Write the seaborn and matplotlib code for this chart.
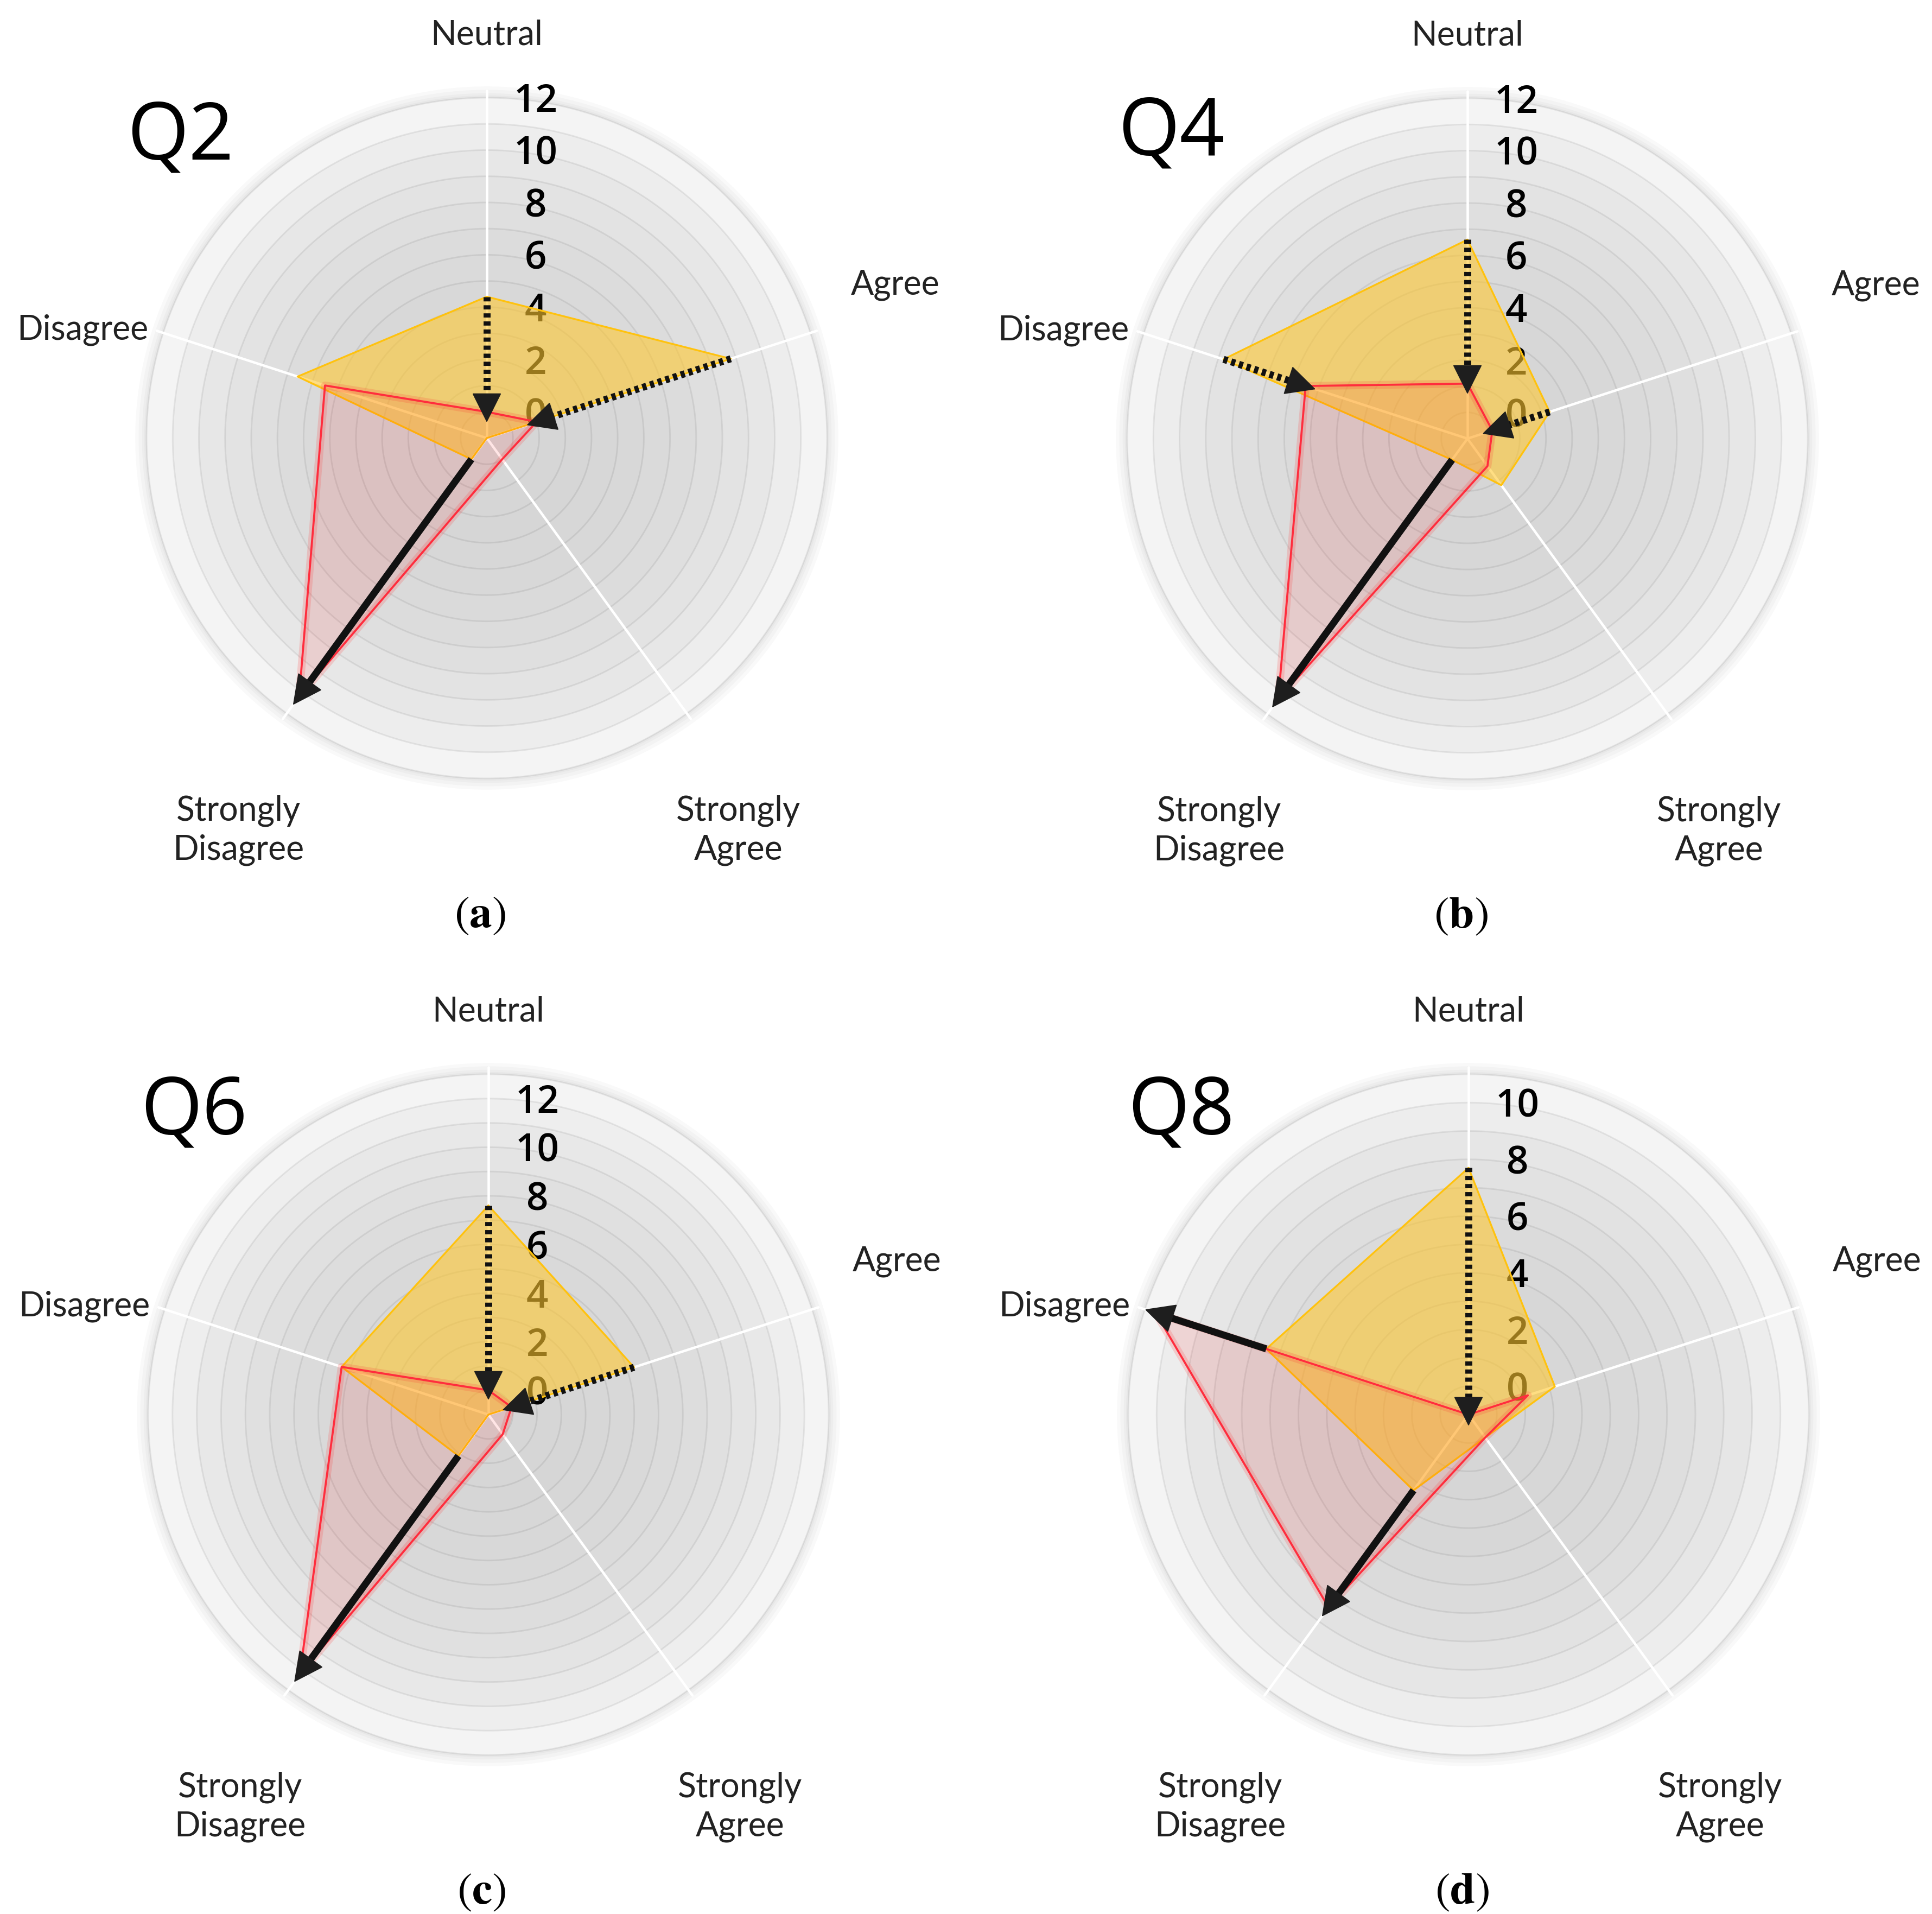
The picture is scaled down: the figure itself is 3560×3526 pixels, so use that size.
import numpy as np
import matplotlib
matplotlib.use("Agg")
import matplotlib.pyplot as plt
import matplotlib.patheffects as pe
from matplotlib.transforms import offset_copy
import seaborn as sns

# ---------------- data ----------------
categories = ["Neutral", "Agree", "Strongly\nAgree", "Strongly\nDisagree", "Disagree"]
questions = ["Q2", "Q4", "Q6", "Q8"]
panel_letters = ["a", "b", "c", "d"]

# values (the centre of each chart sits at -1)
q2_before = [4.4, 8.8, -1.0, 0.0, 6.6]
q2_after = [0.0, 1.0, 0.0, 11.2, 5.5]
q4_before = [6.6, 2.3, 1.2, 0.0, 8.8]
q4_after = [1.1, 0.0, 0.3, 11.3, 5.5]
q6_before = [7.6, 5.3, -1.0, 1.1, 5.35]
q6_after = [0.0, 0.0, 0.0, 12.2, 5.35]
q8_before = [7.7, 2.2, 0.0, 2.3, 6.5]
q8_after = [-1.0, 1.2, 0.0, 7.4, 10.6]

scale_max = [12, 12, 13, 11]
tick_top = [12, 12, 12, 10]

# ---------------- layout ----------------
W, H, DPI = 3561, 3526, 300
R_PX = 627
centers_px = [(897, 807), (2704, 808), (900, 2606), (2706, 2606)]
q_label_pos = [(-0.90, 0.88), (-0.87, 0.895), (-0.865, 0.884), (-0.845, 0.884)]
cat_label_pos = [(0.0, 1.185, "center"), (1.07, 0.45, "left"), (0.74, -1.153, "center"),
                 (-0.73, -1.153, "center"), (-0.995, 0.318, "right")]

YELLOW_FILL = "#ffc831"
YELLOW_EDGE = "#ffc20e"
RED = "#ff2d3d"

sns.set_theme(style="white")
plt.rcParams["font.family"] = ["Lato", "DejaVu Sans"]
plt.rcParams["mathtext.fontset"] = "stix"


def apos(fx, fy):
    return 0.5 + 0.5 * fx, 0.5 + 0.5 * fy


def polar_pt(theta, r):
    # points past the centre continue on the opposite side
    if r < -1:
        return theta + np.pi, -2 - r
    return theta, r


def draw_radar(ax, before, after, rmax, top, qname, letter, qpos):
    n = len(categories)
    angles = np.linspace(0, 2 * np.pi, n, endpoint=False)
    ax.set_theta_zero_location("N")
    ax.set_theta_direction(-1)
    ax.set_xlim(0, 2 * np.pi)
    ax.set_ylim(-1, rmax)
    ax.set_xticks([])
    ax.set_yticks([])
    ax.grid(False)
    ax.spines["polar"].set_visible(False)
    ax.set_facecolor("none")

    circ = np.linspace(0, 2 * np.pi, 721)

    # soft shadow round the outer edge
    for w in [2, 4, 7, 10]:
        ax.plot(circ, np.full_like(circ, rmax), color="black", alpha=0.025, lw=w,
                zorder=0.05, clip_on=False)

    # background bands, light outside -> darker towards the centre
    nb = rmax + 1
    for k in range(nb - 1, -1, -1):
        t = k / (nb - 1)
        g = (214 + 30 * t ** 3) / 255
        ax.bar(0, k + 1, width=2 * np.pi, bottom=-1, color=(g, g, g), linewidth=0, zorder=0.1)

    # ring lines
    for v in range(0, rmax + 1):
        ax.plot(circ, np.full_like(circ, v), color="black", alpha=0.07, lw=0.7,
                zorder=0.2, clip_on=(v < rmax))

    # spokes
    ext = rmax + 0.02 * (rmax + 1)
    for a in angles:
        ax.plot([a, a], [-1, ext], color="white", lw=1.1, zorder=0.3, clip_on=False)

    # tick labels, drawn under the datasets
    tick_tr = offset_copy(ax.transData, fig=ax.figure, x=90, y=0, units="dots")
    for v in range(0, top + 1, 2):
        ax.text(0, v, str(v), transform=tick_tr, ha="center", va="center_baseline",
                fontsize=17, fontweight="semibold", family=["Open Sans", "DejaVu Sans"],
                color="black", zorder=0.5)

    th = np.append(angles, angles[0])
    b = np.append(before, before[0])
    a = np.append(after, after[0])

    ax.fill(th, b, color=YELLOW_FILL, alpha=0.6, lw=0, zorder=1)
    sns.lineplot(x=th, y=b, sort=False, estimator=None, color=YELLOW_EDGE, lw=0.8, ax=ax, zorder=1.1)
    ax.fill(th, a, color="red", alpha=0.1, lw=0, zorder=1.2)
    sns.lineplot(x=th, y=a, sort=False, estimator=None, color=RED, lw=0.9, ax=ax, zorder=1.3,
                 path_effects=[pe.Stroke(linewidth=3.5, foreground=(1, 0.2, 0.2, 0.18)), pe.Normal()])

    # arrows from before to after where the change is large
    for i in range(n):
        yb, ya = before[i], after[i]
        if abs(ya - yb) < 2:
            continue
        s = np.sign(ya - yb)
        tip = ya + s * 0.4
        shaft_end = tip - s * 0.6
        ls = "-" if s > 0 else (0, (0.6, 0.55))
        ax.plot([angles[i], angles[i]], [yb, shaft_end], color="#111111", lw=3.1,
                linestyle=ls, solid_capstyle="butt", dash_capstyle="butt", zorder=3)
        ax.annotate("", xy=polar_pt(angles[i], tip), xytext=polar_pt(angles[i], tip - s * 0.3),
                    arrowprops=dict(arrowstyle="-|>,head_length=1.2,head_width=0.6",
                                    mutation_scale=10, color="#1e1e1e", lw=0.5,
                                    shrinkA=0, shrinkB=0),
                    zorder=3.2, annotation_clip=False)

    ax.set_xlabel("")
    ax.set_ylabel("")
    ax.set_xlim(0, 2 * np.pi)
    ax.set_ylim(-1, rmax)

    # category labels
    for cat, (fx, fy, ha) in zip(categories, cat_label_pos):
        ax.text(*apos(fx, fy), cat, transform=ax.transAxes, ha=ha, va="center",
                multialignment="center", fontsize=15, color="#222222", linespacing=1.3)

    ax.text(*apos(*qpos), qname, transform=ax.transAxes, ha="center", va="center",
            fontsize=35, family=["Open Sans", "DejaVu Sans"], color="black")
    ax.text(*apos(-0.02, -1.404), f"$\\mathrm{{(}}\\mathbf{{{letter}}}\\mathrm{{)}}$",
            transform=ax.transAxes, ha="center", va="center", fontsize=20, color="black")


fig = plt.figure(figsize=(W / DPI, H / DPI), dpi=DPI, facecolor="white")

befores = [q2_before, q4_before, q6_before, q8_before]
afters = [q2_after, q4_after, q6_after, q8_after]

for k in range(4):
    cx, cy = centers_px[k]
    rect = [(cx - R_PX) / W, 1 - (cy + R_PX) / H, 2 * R_PX / W, 2 * R_PX / H]
    ax = fig.add_axes(rect, projection="polar")
    draw_radar(ax, befores[k], afters[k], scale_max[k], tick_top[k], questions[k],
               panel_letters[k], q_label_pos[k])

fig.savefig("out.png", dpi=DPI, facecolor="white")
